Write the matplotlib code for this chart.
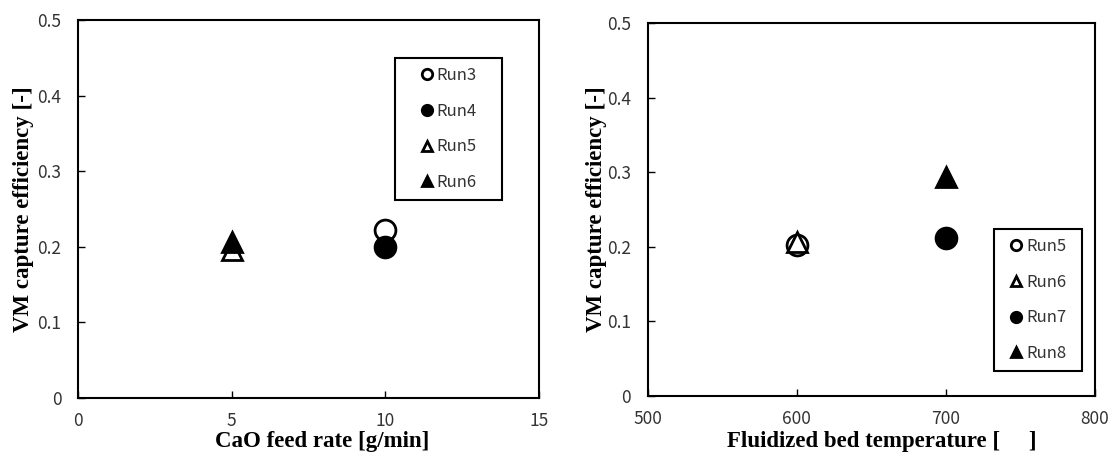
import matplotlib
matplotlib.use("Agg")
import matplotlib.pyplot as plt
from matplotlib.lines import Line2D
from matplotlib.patches import Rectangle
from matplotlib.transforms import blended_transform_factory

# Left panel data
left_runs = ["Run3", "Run4", "Run5", "Run6"]
left_x = [10, 10, 5, 5]
left_y = [0.222, 0.200, 0.196, 0.206]
left_markers = ["o", "o", "^", "^"]
left_filled = [False, True, False, True]

# Right panel data
right_runs = ["Run5", "Run6", "Run7", "Run8"]
right_x = [600, 600, 700, 700]
right_y = [0.202, 0.206, 0.212, 0.293]
right_markers = ["o", "^", "o", "^"]
right_filled = [False, False, True, True]

left_xticks = [0, 5, 10, 15]
right_xticks = [500, 600, 700, 800]
yticks = [0, 0.1, 0.2, 0.3, 0.4, 0.5]
ytick_labels = ["0", "0.1", "0.2", "0.3", "0.4", "0.5"]

tick_font = ["Noto Sans CJK JP", "DejaVu Sans"]
label_font = "Liberation Serif"
tick_color = "#333333"

W, H = 1109, 454
fig = plt.figure(figsize=(W / 100, H / 100), dpi=100)


def fig_box(l, t, r, b):
    return [l / W, 1 - b / H, (r - l) / W, (b - t) / H]


axL = fig.add_axes(fig_box(78, 20, 539, 398))
axR = fig.add_axes(fig_box(647.5, 23, 1095, 396))


def draw(ax, runs, xs, ys, markers, filled, xticks, xlim, xlabel,
         xlabel_x, ylabel_x, box):
    handles = []
    for r, x, y, m, f in zip(runs, xs, ys, markers, filled):
        ax.plot([x], [y], linestyle="none", marker=m, markersize=15,
                markerfacecolor="black" if f else "white",
                markeredgecolor="black", markeredgewidth=2, zorder=3)
        handles.append(Line2D([], [], linestyle="none", marker=m, markersize=7.5,
                              markerfacecolor="black" if f else "white",
                              markeredgecolor="black", markeredgewidth=2, label=r))
    ax.set_xlim(*xlim)
    ax.set_ylim(0, 0.5)
    ax.set_xticks(xticks)
    ax.set_yticks(yticks)
    ax.set_yticklabels(ytick_labels)
    ax.tick_params(direction="in", length=5, width=1, top=False, right=False,
                   labelsize=12.5, labelcolor=tick_color)
    ax.tick_params(axis="y", pad=12)
    ax.tick_params(axis="x", pad=10)
    for lab in ax.get_xticklabels() + ax.get_yticklabels():
        lab.set_family(tick_font)
        lab.set_zorder(5)
    for s in ax.spines.values():
        s.set_linewidth(1.5)
    ax.set_xlabel(xlabel, fontfamily=label_font, fontweight="bold", fontsize=16.5)
    ax.set_ylabel("VM capture efficiency [-]", fontfamily=label_font, fontweight="bold",
                  fontsize=16.5)
    ax.xaxis.set_label_coords(xlabel_x, 1 - 431 / H,
                              transform=blended_transform_factory(ax.transAxes, fig.transFigure))
    ax.yaxis.set_label_coords(ylabel_x / W, 0.5,
                              transform=blended_transform_factory(fig.transFigure, ax.transAxes))
    l, t, r, b = box
    ax.add_patch(Rectangle((l / W, 1 - b / H), (r - l) / W, (b - t) / H,
                           transform=fig.transFigure, facecolor="white",
                           edgecolor="black", linewidth=1.5, zorder=4, clip_on=False))
    leg = ax.legend(handles=handles, loc="center",
                    bbox_to_anchor=((l + r) / 2 / W, 1 - (t + b) / 2 / H),
                    bbox_transform=fig.transFigure, frameon=False,
                    handlelength=0.8, handletextpad=0.2,
                    labelspacing=1.12, borderpad=0, borderaxespad=0,
                    prop={"family": tick_font, "size": 12})
    for tx in leg.get_texts():
        tx.set_color(tick_color)
    leg.set_zorder(6)
    return leg


draw(axL, left_runs, left_x, left_y, left_markers, left_filled, left_xticks, (0, 15),
     "CaO feed rate [g/min]", 0.530, 34, (395, 58, 502, 200))
draw(axR, right_runs, right_x, right_y, right_markers, right_filled, right_xticks, (500, 800),
     "Fluidized bed temperature [     ]", 0.524, 607, (994, 229, 1082, 371))

fig.savefig("out.png", dpi=100)
